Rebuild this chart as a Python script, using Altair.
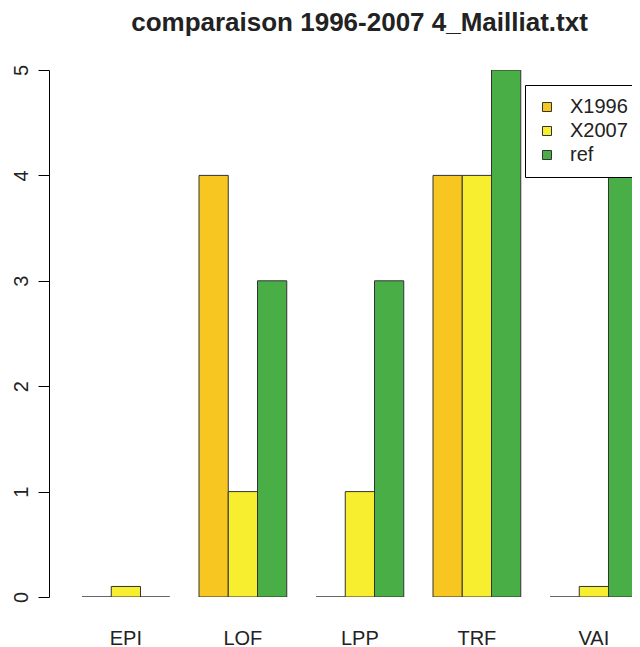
import altair as alt
import pandas as pd

categories = ["EPI", "LOF", "LPP", "TRF", "VAI"]
series_names = ["X1996", "X2007", "ref"]
x1996 = [0, 4, 0, 4, 0]
x2007 = [0.1, 1, 1, 4, 0.1]
ref = [0, 3, 3, 5, 4]
colors = ["#F8C620", "#F7EE30", "#4AAE47"]
y_ticks = [0, 1, 2, 3, 4, 5]

rows = []
for name, vals in zip(series_names, [x1996, x2007, ref]):
    for c, v in zip(categories, vals):
        rows.append({"cat": c, "series": name, "value": v})
df = pd.DataFrame(rows)

FONT = "Liberation Sans"

chart = alt.Chart(df).mark_bar(stroke="#333333", strokeWidth=1, clip=True).encode(
    x=alt.X("cat:N", sort=categories,
            scale=alt.Scale(domain=categories, range=[33, 588.75], paddingInner=0.25, paddingOuter=0),
            axis=alt.Axis(domain=False, ticks=False, labelAngle=0, labelFontSize=20,
                          labelFont=FONT, labelColor="#222222", labelPadding=31,
                          labelBaseline="top"),
            title=None),
    xOffset=alt.XOffset("series:N", sort=series_names,
                        scale=alt.Scale(domain=series_names, paddingInner=0, paddingOuter=0)),
    y=alt.Y("value:Q", scale=alt.Scale(domain=[0, 5], nice=False),
            axis=alt.Axis(values=y_ticks, grid=False, domainColor="black", tickColor="black",
                          tickSize=11, labelAngle=270, labelAlign="center", labelBaseline="bottom",
                          labelFontSize=20, labelFont=FONT, labelColor="#222222", labelPadding=7),
            title=None),
    color=alt.Color("series:N", sort=series_names,
                    scale=alt.Scale(domain=series_names, range=colors),
                    legend=alt.Legend(orient="none", legendX=476, legendY=15, title=None,
                                      strokeColor="black", fillColor="white", padding=12,
                                      symbolType="square", symbolSize=81,
                                      symbolStrokeColor="#333333", symbolStrokeWidth=1,
                                      labelFontSize=20, labelFont=FONT, labelColor="#222222",
                                      labelOffset=13, rowPadding=4, symbolOffset=0,
                                      cornerRadius=0)),
).properties(
    width=583,
    height=527,
    padding={"left": 41, "top": 62, "right": 0, "bottom": 50},
    autosize=alt.AutoSizeParams(type="none"),
    title=alt.TitleParams("comparaison 1996-2007 4_Mailliat.txt", anchor="middle", frame="group",
                          fontSize=26, fontWeight="bold", font=FONT, color="#222222",
                          baseline="bottom", offset=2, dx=19),
).configure_view(stroke=None)

chart.save("out.html", embed_options={"renderer": "svg", "actions": False})
